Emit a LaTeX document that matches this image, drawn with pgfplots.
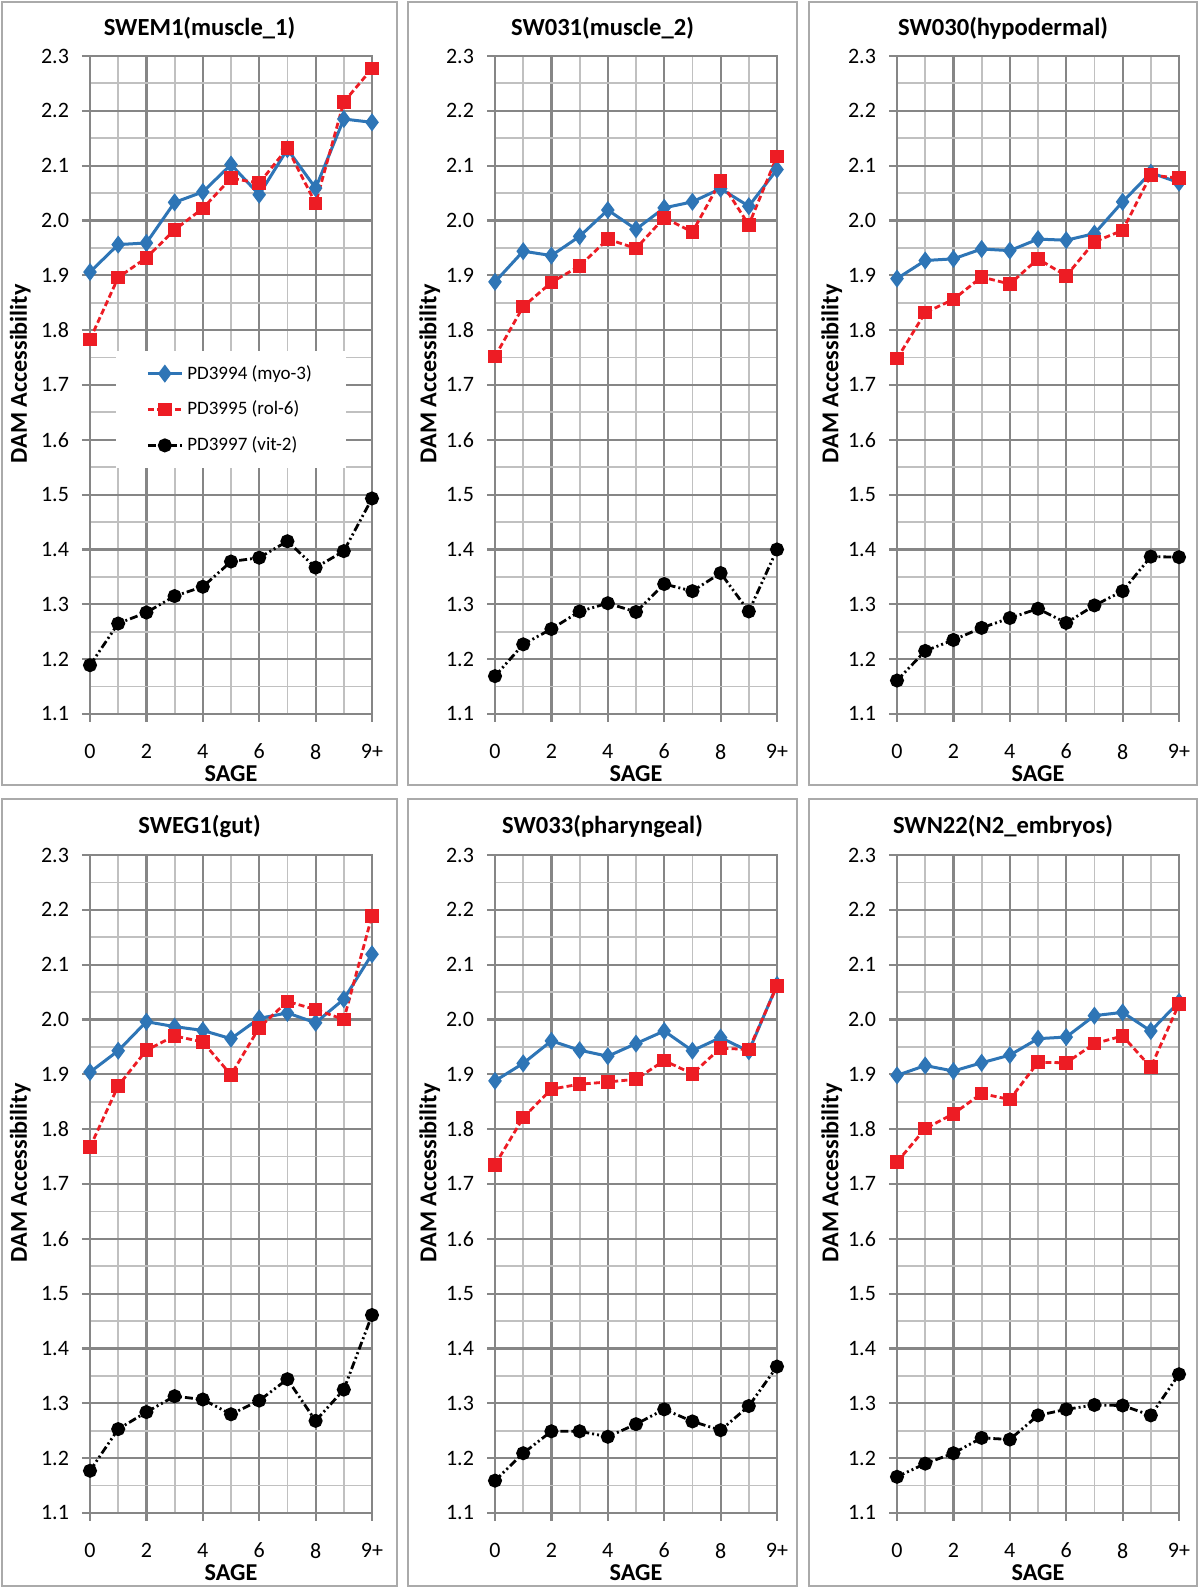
\documentclass[border=0pt]{standalone}
\usepackage{fontspec}
\setmainfont{Carlito}
\usepackage{pgfplots}
\usepackage{pgfplotstable}
\pgfplotsset{compat=1.18}

\definecolor{myblue}{RGB}{46,117,182}
\definecolor{myred}{RGB}{237,28,36}
\definecolor{gmaj}{RGB}{134,134,134}
\definecolor{gmin}{RGB}{192,192,192}
\definecolor{boxc}{RGB}{170,170,170}

\pgfplotstableread{
x b r k
0 1.906 1.783 1.189
1 1.956 1.896 1.265
2 1.959 1.932 1.285
3 2.033 1.983 1.315
4 2.052 2.022 1.332
5 2.102 2.077 1.378
6 2.047 2.068 1.385
7 2.130 2.132 1.415
8 2.059 2.031 1.367
9 2.185 2.216 1.397
10 2.179 2.277 1.493
}\tA
\pgfplotstableread{
x b r k
0 1.888 1.752 1.169
1 1.944 1.843 1.227
2 1.936 1.887 1.255
3 1.971 1.917 1.287
4 2.019 1.966 1.302
5 1.984 1.949 1.286
6 2.023 2.005 1.337
7 2.034 1.979 1.324
8 2.058 2.072 1.357
9 2.026 1.992 1.287
10 2.093 2.117 1.400
}\tB
\pgfplotstableread{
x b r k
0 1.894 1.748 1.161
1 1.927 1.832 1.215
2 1.930 1.856 1.235
3 1.948 1.897 1.257
4 1.945 1.884 1.275
5 1.966 1.930 1.292
6 1.964 1.899 1.266
7 1.976 1.961 1.298
8 2.034 1.982 1.324
9 2.087 2.083 1.387
10 2.069 2.077 1.386
}\tC
\pgfplotstableread{
x b r k
0 1.904 1.767 1.177
1 1.943 1.879 1.253
2 1.996 1.944 1.284
3 1.987 1.970 1.313
4 1.980 1.959 1.307
5 1.965 1.899 1.280
6 2.002 1.985 1.305
7 2.012 2.033 1.344
8 1.994 2.018 1.268
9 2.037 2.000 1.325
10 2.119 2.189 1.461
}\tD
\pgfplotstableread{
x b r k
0 1.888 1.735 1.159
1 1.920 1.821 1.209
2 1.961 1.873 1.249
3 1.944 1.882 1.249
4 1.933 1.886 1.239
5 1.956 1.891 1.262
6 1.979 1.925 1.289
7 1.943 1.901 1.267
8 1.967 1.948 1.251
9 1.942 1.945 1.295
10 2.063 2.061 1.367
}\tE
\pgfplotstableread{
x b r k
0 1.898 1.740 1.166
1 1.916 1.801 1.190
2 1.906 1.828 1.209
3 1.921 1.865 1.237
4 1.935 1.854 1.234
5 1.965 1.922 1.278
6 1.968 1.921 1.289
7 2.007 1.956 1.297
8 2.013 1.970 1.296
9 1.979 1.913 1.278
10 2.032 2.028 1.353
}\tF

\pgfplotsset{
  panel/.style={
    scale only axis, width=141pt, height=329pt,
    anchor=north west, clip=false,
    xmin=0, xmax=10, ymin=1.1, ymax=2.3,
    xtick={0,2,4,6,8,10}, xticklabels={0,2,4,6,8,9+},
    ytick={1.1,1.2,1.3,1.4,1.5,1.6,1.7,1.8,1.9,2.0,2.1,2.2,2.3},
    minor xtick={1,3,5,7,9},
    minor ytick={1.15,1.25,1.35,1.45,1.55,1.65,1.75,1.85,1.95,2.05,2.15,2.25},
    grid=both,
    major grid style={gmaj, line width=1.1pt},
    minor grid style={gmin, line width=0.9pt},
    axis line style={gmaj, line width=1.1pt},
    tick pos=left, tick align=outside,
    major tick length=4pt, minor tick length=0pt,
    tick style={gmaj, line width=1.1pt},
    /pgf/number format/assume math mode=true,
    yticklabel style={/pgf/number format/fixed, /pgf/number format/fixed zerofill, /pgf/number format/precision=1, xshift=-3pt},
    xticklabel style={yshift=-7.5pt},
    tick label style={font=\fontsize{11}{13}\selectfont, text=black},
    label style={font=\bfseries\fontsize{12.1}{14}\selectfont},
    xlabel={SAGE}, ylabel={DAM Accessibility},
    xlabel style={at={(axis description cs:0.5,-0.09)}, anchor=center},
    legend image code/.code={\draw[mark repeat=2,mark phase=2,##1] plot coordinates {(0pt,0pt)(8.5pt,0pt)(17pt,0pt)};},
  },
  sb/.style={myblue, line width=1.5pt, mark=diamond*, mark size=3.3pt, mark options={solid, fill=myblue}},
  sr/.style={myred, line width=1.4pt, dash pattern=on 3pt off 1.6pt, mark=square*, mark size=2.7pt, mark options={solid, fill=myred}},
  sk/.style={black, line width=1.4pt, dash pattern=on 4pt off 1.5pt on 1pt off 1.5pt on 1pt off 1.5pt, mark=*, mark size=2.8pt, mark options={solid, fill=black}},
}

\newcommand{\panel}[5]{%
  \begin{axis}[panel, at={(#1,#2)}, ylabel style={at={(axis description cs:#4,0.517)}, anchor=center}, #5]
    \addplot[sb] table[x=x,y=b] {#3};
    \addplot[sr] table[x=x,y=r] {#3};
    \addplot[sk] table[x=x,y=k] {#3};
  \end{axis}}

\begin{document}
\begin{tikzpicture}
\useasboundingbox (0pt,0pt) rectangle (600pt,794pt);
\fill[white] (0pt,0pt) rectangle (600pt,794pt);
% panel frames
\draw[boxc, line width=0.6pt] (1pt,401.5pt) rectangle (198.5pt,793pt);
\draw[boxc, line width=0.6pt] (204pt,401.5pt) rectangle (398.5pt,793pt);
\draw[boxc, line width=0.6pt] (404.5pt,401.5pt) rectangle (598.5pt,793pt);
\draw[boxc, line width=0.6pt] (1pt,1pt) rectangle (198.5pt,394.5pt);
\draw[boxc, line width=0.6pt] (204pt,1pt) rectangle (398.5pt,394.5pt);
\draw[boxc, line width=0.6pt] (404.5pt,1pt) rectangle (598.5pt,394.5pt);
% titles
\begin{scope}[every node/.style={font=\bfseries\fontsize{12.3}{14}\selectfont, anchor=base}]
\node at (99.75pt,776pt) {SWEM1(muscle\_1)};
\node at (301.25pt,776pt) {SW031(muscle\_2)};
\node at (501.5pt,776pt) {SW030(hypodermal)};
\node at (99.75pt,377pt) {SWEG1(gut)};
\node at (301.25pt,377pt) {SW033(pharyngeal)};
\node at (501.5pt,377pt) {SWN22(N2\_embryos)};
\end{scope}
\panel{45pt}{766pt}{\tA}{-0.247}{legend entries={PD3994 (myo-3),PD3995 (rol-6),PD3997 (vit-2)}, legend cell align=left, legend style={at={(0.092,0.552)}, anchor=north west, draw=none, fill=white, font=\fontsize{9.5}{11}\selectfont, row sep=5.5pt, inner xsep=15pt, inner ysep=5pt}}
\panel{247.5pt}{766pt}{\tB}{-0.231}{}
\panel{448.5pt}{766pt}{\tC}{-0.231}{}
\panel{45pt}{366.5pt}{\tD}{-0.247}{}
\panel{247.5pt}{366.5pt}{\tE}{-0.231}{}
\panel{448.5pt}{366.5pt}{\tF}{-0.231}{}
\end{tikzpicture}
\end{document}
